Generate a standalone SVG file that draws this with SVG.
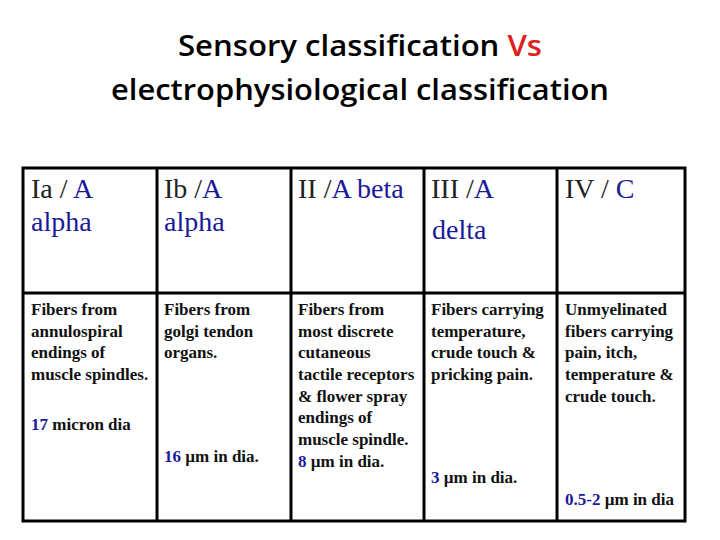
<svg xmlns="http://www.w3.org/2000/svg" width="720" height="540" viewBox="0 0 720 540">
<style>
.t{font-family:"Open Sans","Liberation Sans",sans-serif;font-size:28px;font-weight:600;fill:#000;text-anchor:middle}
.h{font-family:"Liberation Serif","Times New Roman",serif;font-size:28px;fill:#222}
.b{font-family:"Liberation Serif","Times New Roman",serif;font-size:17px;font-weight:bold;fill:#111}
.bl{fill:#1a1a99}
.g{stroke:#000;stroke-width:3;fill:none}
</style>
<rect width="720" height="540" fill="#fff"/>
<g id="title">
<text class="t" x="360" y="56" textLength="364" lengthAdjust="spacingAndGlyphs">Sensory classification <tspan fill="#e0201b">Vs</tspan></text>
<text class="t" x="360" y="100" textLength="498" lengthAdjust="spacingAndGlyphs">electrophysiological classification</text>
</g>
<g id="grid">
<rect class="g" x="23" y="168" width="662" height="353"/>
<line class="g" x1="23" y1="293" x2="685" y2="293"/>
<line class="g" x1="157" y1="168" x2="157" y2="521"/>
<line class="g" x1="291" y1="168" x2="291" y2="521"/>
<line class="g" x1="424" y1="168" x2="424" y2="521"/>
<line class="g" x1="557" y1="168" x2="557" y2="521"/>
</g>
<g id="c1">
<text class="h" x="31" y="198">Ia / <tspan class="bl">A</tspan></text>
<text class="h bl" x="31" y="231">alpha</text>
<text class="b" x="31" y="315">Fibers from</text>
<text class="b" x="31" y="337">annulospiral</text>
<text class="b" x="31" y="358">endings of</text>
<text class="b" x="31" y="380">muscle spindles.</text>
<text class="b" x="31" y="430"><tspan class="bl">17</tspan> micron dia</text>
</g>
<g id="c2">
<text class="h" x="164" y="198">Ib /<tspan class="bl">A</tspan></text>
<text class="h bl" x="164" y="231">alpha</text>
<text class="b" x="164" y="315">Fibers from</text>
<text class="b" x="164" y="337">golgi tendon</text>
<text class="b" x="164" y="358">organs.</text>
<text class="b" x="164" y="462"><tspan class="bl">16</tspan> µm in dia.</text>
</g>
<g id="c3">
<text class="h" x="298" y="198">II /<tspan class="bl">A beta</tspan></text>
<text class="b" x="298" y="315">Fibers from</text>
<text class="b" x="298" y="337">most discrete</text>
<text class="b" x="298" y="358">cutaneous</text>
<text class="b" x="298" y="380">tactile receptors</text>
<text class="b" x="298" y="402">&amp; flower spray</text>
<text class="b" x="298" y="423">endings of</text>
<text class="b" x="298" y="445">muscle spindle.</text>
<text class="b" x="298" y="467"><tspan class="bl">8</tspan> µm in dia.</text>
</g>
<g id="c4">
<text class="h" x="431" y="198">III /<tspan class="bl">A</tspan></text>
<text class="h bl" x="432" y="239">delta</text>
<text class="b" x="431" y="315">Fibers carrying</text>
<text class="b" x="431" y="337">temperature,</text>
<text class="b" x="431" y="358">crude touch &amp;</text>
<text class="b" x="431" y="380">pricking pain.</text>
<text class="b" x="431" y="483"><tspan class="bl">3</tspan> µm in dia.</text>
</g>
<g id="c5">
<text class="h" x="565" y="198">IV / <tspan class="bl">C</tspan></text>
<text class="b" x="565" y="315">Unmyelinated</text>
<text class="b" x="565" y="337">fibers carrying</text>
<text class="b" x="565" y="358">pain, itch,</text>
<text class="b" x="565" y="380">temperature &amp;</text>
<text class="b" x="565" y="402">crude touch.</text>
<text class="b" x="565" y="505"><tspan class="bl">0.5-2</tspan> µm in dia</text>
</g>
</svg>
